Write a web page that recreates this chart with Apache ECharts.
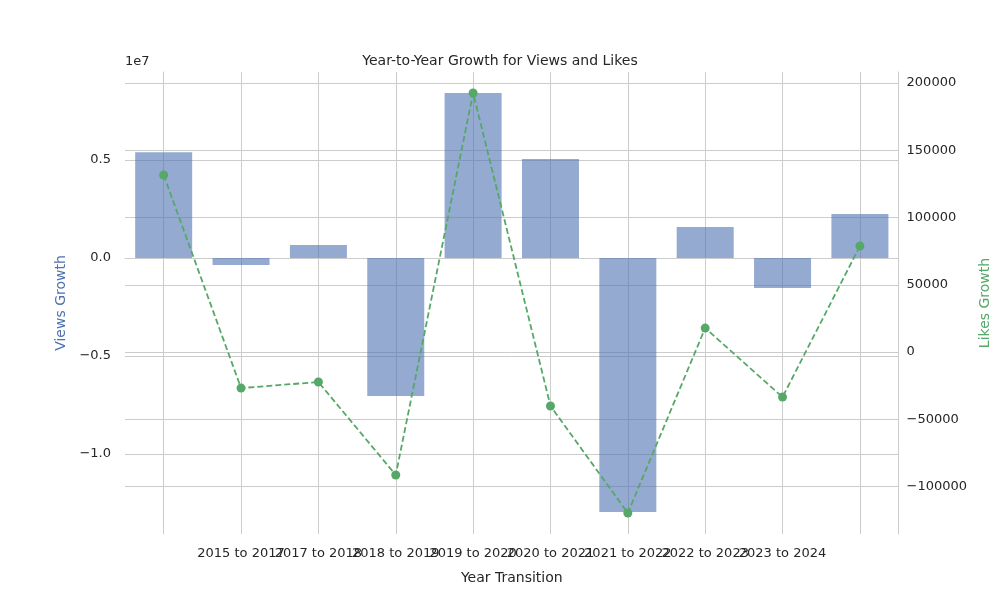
<!DOCTYPE html>
<html><head><meta charset="utf-8">
<script src="https://cdn.jsdelivr.net/npm/echarts@6/dist/echarts.min.js"></script>
<style>body{margin:0;background:#fff}#c{width:1000px;height:600px}</style>
</head><body><div id="c"></div>
<script>
const categories = ['2014 to 2015','2015 to 2017','2017 to 2018','2018 to 2019','2019 to 2020','2020 to 2021','2021 to 2022','2022 to 2023','2023 to 2024','2024 to 2025']
const viewsGrowth = [5400000,-360000,660000,-7040000,8420000,5050000,-12960000,1580000,-1530000,2240000]
const likesGrowth = [131600,-26800,-22300,-91400,192600,-40100,-119700,17800,-33500,78800]
const viewTicks = [-10000000,-5000000,0,5000000]
const likeTicks = [-100000,-50000,0,50000,100000,150000,200000]

const chart = echarts.init(document.getElementById('c'))
const txt = { color:'#262626', fontSize:13, fontFamily:'DejaVu Sans' }
chart.setOption({
  animation:false,
  title:{ text:'Year-to-Year Growth for Views and Likes', left:'center', top:49, textStyle:{ fontSize:14, fontWeight:'normal', color:'#262626', fontFamily:'DejaVu Sans' } },
  graphic:[{ type:'text', left:125, top:55, style:{ text:'1e7', fontSize:13, fill:'#262626', fontFamily:'DejaVu Sans' } }],
  grid:{ left:125, right:100, top:72, bottom:66 },
  xAxis:{
    type:'value', min:-0.5, max:9.5,
    name:'Year Transition', nameLocation:'middle', nameGap:37, nameTextStyle:{ fontSize:14, color:'#262626', fontFamily:'DejaVu Sans' },
    axisLine:{ show:true, lineStyle:{ color:'#ccc', width:1 } },
    axisTick:{ show:false, customValues:[0,1,2,3,4,5,6,7,8,9] },
    axisLabel:{ ...txt, margin:13, customValues:[0,1,2,3,4,5,6,7,8,9], formatter:v=>categories[Math.round(v)] },
    splitLine:{ show:true, lineStyle:{ color:'#ccc' } }
  },
  yAxis:[{
    type:'value', min:-14080000, max:9490000, position:'left',
    name:'Views Growth', nameLocation:'middle', nameGap:50, nameTextStyle:{ fontSize:14, color:'#4c72b0', fontFamily:'DejaVu Sans' },
    axisLine:{ show:true, lineStyle:{ color:'#ccc' } },
    axisTick:{ show:false, customValues:viewTicks },
    axisLabel:{ ...txt, margin:14, customValues:viewTicks, formatter:v=>(v/1e7).toFixed(1).replace('-','\u2212') },
    splitLine:{ show:true, lineStyle:{ color:'#ccc' } }
  },{
    type:'value', min:-135300, max:208200, position:'right',
    name:'Likes Growth', nameLocation:'middle', nameGap:75, nameRotate:90, nameTextStyle:{ fontSize:14, color:'#55a868', fontFamily:'DejaVu Sans' },
    axisLine:{ show:true, lineStyle:{ color:'#ccc' } },
    axisTick:{ show:false, customValues:likeTicks },
    axisLabel:{ ...txt, margin:8, customValues:likeTicks, formatter:v=>String(v).replace('-','\u2212') },
    splitLine:{ show:true, lineStyle:{ color:'#ccc' } }
  }],
  series:[{
    type:'bar', yAxisIndex:0, barWidth:57,
    data:viewsGrowth.map((v,i)=>[i,v]),
    itemStyle:{ color:'rgba(76,114,176,0.6)' }
  },{
    type:'line', yAxisIndex:1, z:5,
    data:likesGrowth.map((v,i)=>[i,v]),
    lineStyle:{ color:'#55a868', type:[6,3], width:1.8 },
    itemStyle:{ color:'#55a868' }, symbol:'circle', symbolSize:9
  }]
})
</script></body></html>
